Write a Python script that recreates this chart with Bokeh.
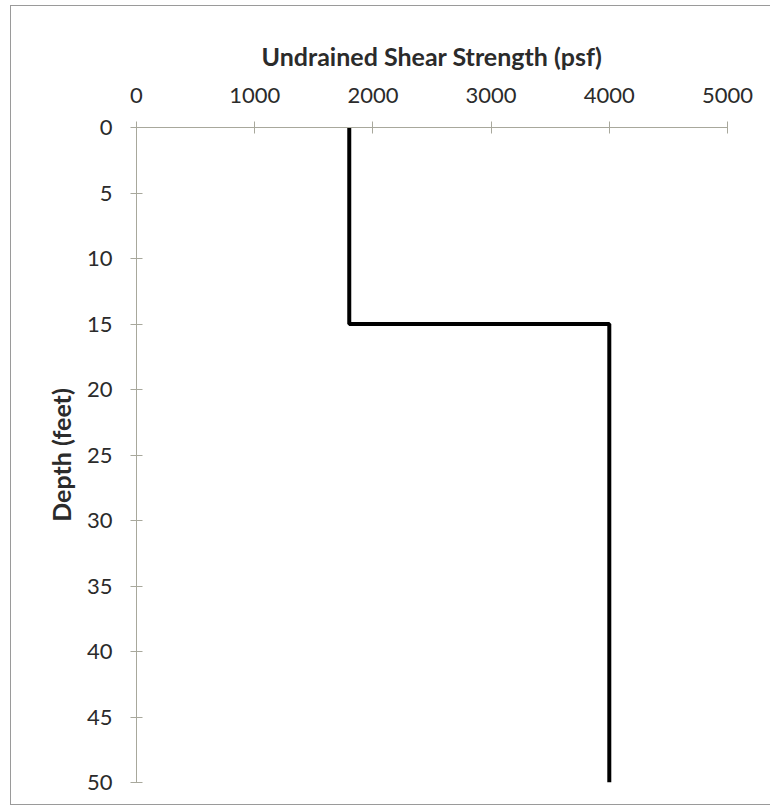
from bokeh.plotting import figure
from bokeh.models import Range1d, FixedTicker
from bokeh.embed import file_html
from bokeh.resources import INLINE

# Data: undrained shear strength profile
strength_psf = [1800, 1800, 4000, 4000]
depth_ft = [0, 15, 15, 50]

x_ticks = [0, 1000, 2000, 3000, 4000, 5000]
y_ticks = [0, 5, 10, 15, 20, 25, 30, 35, 40, 45, 50]

x_title = "Undrained Shear Strength (psf)"
y_title = "Depth (feet)"

FONT = "Lato"
AXIS_COLOR = "#a8a89c"
TEXT_COLOR = "#2b2b2b"

p = figure(width=760, height=800, output_backend="svg", toolbar_location=None,
           x_range=Range1d(0, 5000), y_range=Range1d(50, 0),
           x_axis_location="above",
           min_border_left=125, min_border_right=44,
           min_border_top=121, min_border_bottom=24,
           background_fill_color="white", border_fill_color="white")
p.outline_line_color = None
p.grid.visible = False
p.styles = {"margin": "5px 0px 0px 10px",
            "border-left": "1px solid #9a9a9a", "border-top": "1px solid #9a9a9a",
            "border-bottom": "1px solid #9a9a9a"}

p.line(strength_psf, depth_ft, line_color="black", line_width=4)

for ax in (p.xaxis[0], p.yaxis[0]):
    ax.axis_line_color = AXIS_COLOR
    ax.axis_line_width = 1
    ax.major_tick_line_color = AXIS_COLOR
    ax.major_tick_in = 6
    ax.major_tick_out = 6
    ax.minor_tick_line_color = None
    ax.major_label_text_font = FONT
    ax.major_label_text_font_size = "22px"
    ax.major_label_text_color = TEXT_COLOR
    ax.axis_label_text_font = FONT
    ax.axis_label_text_font_style = "bold"
    ax.axis_label_text_font_size = "25px"
    ax.axis_label_text_color = TEXT_COLOR

p.xaxis.ticker = FixedTicker(ticks=x_ticks)
p.yaxis.ticker = FixedTicker(ticks=y_ticks)

p.xaxis.major_label_standoff = 19
p.yaxis.major_label_standoff = 18

p.xaxis.axis_label = x_title
p.xaxis.axis_label_standoff = 14
p.yaxis.axis_label = y_title
p.yaxis.axis_label_standoff = 8

open("out.html", "w").write(file_html(p, INLINE))
